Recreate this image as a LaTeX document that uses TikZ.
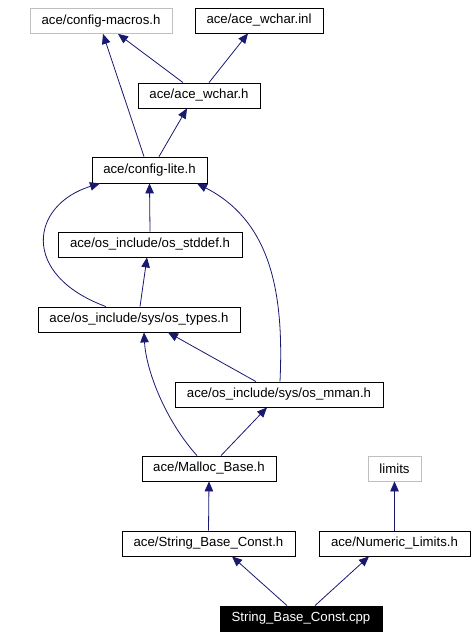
\documentclass[tikz,border=0pt]{standalone}
\usepackage{fontspec}
\setmainfont{Liberation Sans}
\usetikzlibrary{arrows.meta}
\definecolor{edgeblue}{HTML}{191970}
\definecolor{graybd}{HTML}{BFBFBF}
\tikzset{
  box/.style={draw=black, line width=0.8bp, fill=white, inner sep=0pt, minimum height=25bp,
    font=\fontsize{13.2bp}{15bp}\selectfont, text=black},
  graybox/.style={box, draw=graybd},
  rootbox/.style={box, fill=black, text=white},
  dep/.style={draw=edgeblue, line width=0.8bp, -{Triangle[length=10bp,width=8.5bp]}, color=edgeblue}
}
\begin{document}
\begin{tikzpicture}[x=1bp,y=-1bp]
\useasboundingbox (0,0) rectangle (475,637);
\node[graybox, minimum width=142bp] (cm) at (101,21) {ace/config-macros.h};
\node[box, minimum width=128bp] (inl) at (259,20.5) {ace/ace\_wchar.inl};
\node[box, minimum width=122bp] (wh) at (199,95.5) {ace/ace\_wchar.h};
\node[box, minimum width=115bp, minimum height=26bp] (cl) at (149.5,170) {ace/config-lite.h};
\node[box, minimum width=184bp] (sd) at (150,244.5) {ace/os\_include/os\_stddef.h};
\node[box, minimum width=202bp] (ty) at (139,319.5) {ace/os\_include/sys/os\_types.h};
\node[box, minimum width=208bp] (mm) at (279,394.5) {ace/os\_include/sys/os\_mman.h};
\node[box, minimum width=134bp] (mb) at (209,468.5) {ace/Malloc\_Base.h};
\node[graybox, minimum width=53bp] (lim) at (394.5,468.5) {limits};
\node[box, minimum width=173bp] (sbh) at (208.5,543.5) {ace/String\_Base\_Const.h};
\node[box, minimum width=151bp] (nl) at (394.5,543.5) {ace/Numeric\_Limits.h};
\node[rootbox, minimum width=162bp] (cpp) at (301,618.5) {String\_Base\_Const.cpp};

\draw[dep] ([xshift=-16bp]wh.north) -- ([xshift=17bp]cm.south);
\draw[dep] ([xshift=10bp]wh.north) -- ([xshift=-11bp]inl.south);
\draw[dep] ([xshift=-5.5bp]cl.north) -- ([xshift=2bp]cm.south);
\draw[dep] ([xshift=9.5bp]cl.north) -- ([xshift=-12bp]wh.south);
\draw[dep] (sd.north) -- (cl.south);
\draw[dep] ([xshift=-33bp]ty.north) .. controls (20,275) and (30,205) .. ([xshift=-49.5bp]cl.south);
\draw[dep] ([xshift=1bp]mm.north) .. controls (284,295) and (272,222) .. ([xshift=47.5bp]cl.south);
\draw[dep] ([xshift=1bp]ty.north) -- ([xshift=-3bp]sd.south);
\draw[dep] ([xshift=-23bp]mm.north) -- ([xshift=29bp]ty.south);
\draw[dep] ([xshift=-12bp]mb.north) .. controls (165,420) and (146,370) .. ([xshift=5bp]ty.south);
\draw[dep] ([xshift=12bp]mb.north) -- ([xshift=-12bp]mm.south);
\draw[dep] (sbh.north) -- (mb.south);
\draw[dep] (nl.north) -- (lim.south);
\draw[dep] ([xshift=-14bp]cpp.north) -- ([xshift=23.5bp]sbh.south);
\draw[dep] ([xshift=14bp]cpp.north) -- ([xshift=-25.5bp]nl.south);
\end{tikzpicture}
\end{document}
